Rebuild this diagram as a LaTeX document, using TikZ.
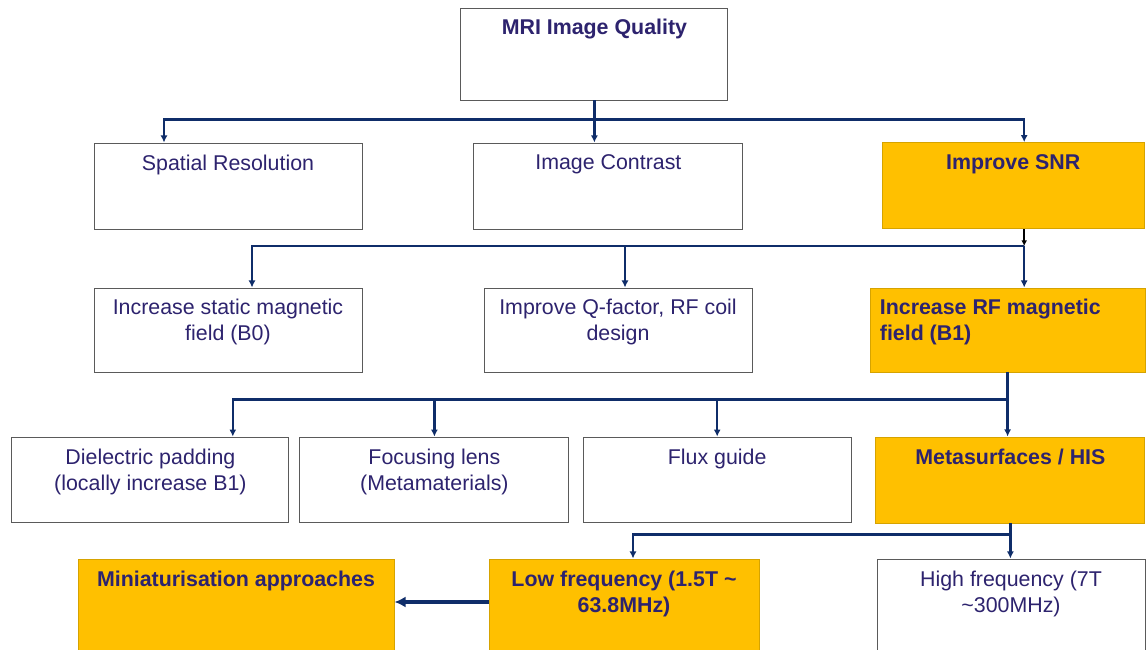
\documentclass[tikz,border=0pt]{standalone}
\usepackage{fontspec}
\setmainfont{Liberation Sans}
\usetikzlibrary{arrows.meta, positioning, calc}
\definecolor{ink}{HTML}{2D236E}
\definecolor{wire}{HTML}{0F2D69}
\definecolor{gold}{HTML}{FFC000}
\definecolor{golddark}{HTML}{D6A300}
\definecolor{edgegray}{HTML}{5A5A5A}
\tikzset{
  box/.style={rectangle, draw=edgegray, line width=0.7pt, fill=white,
    minimum width=6.7cm, minimum height=2.15cm, inner sep=0pt},
  box/hot/.style={box, draw=golddark, fill=gold},
  txt/.style={font=\fontsize{15.2}{18.5}\selectfont, text=ink, align=center, inner sep=0pt},
  txt/bold/.style={txt, font=\fontsize{15.2}{18.5}\selectfont\bfseries},
  ar/.style={-{Latex[length=5pt,width=5pt]}, draw=wire, line width=1.7pt},
  ar/black/.style={-{Latex[length=4pt,width=4pt]}, draw=black, line width=1.1pt},
  ar/big/.style={-{Latex[length=8pt,width=8pt]}, draw=wire, line width=2.3pt},
}

\begin{document}
\begin{tikzpicture}
\path[use as bounding box, clip] (0,0) rectangle (28.65,-16.25);

% top
\node[box, minimum width=6.675cm, minimum height=2.3cm] (MRI) at (14.86,-1.35) {};
\node[txt/bold, below=0.27cm of MRI.north] (tMRI) {MRI Image Quality};

% row 1
\node[box] (SR) at (5.70,-4.65) {};
\node[txt, below=0.3cm of SR.north] (tSR) {Spatial Resolution};
\node[box, minimum width=6.725cm] (IC) at (15.21,-4.65) {};
\node[txt, below=0.3cm of IC.north] (tIC) {Image Contrast};
\node[box/hot, minimum width=6.55cm] (SNR) at (25.33,-4.64) {};
\node[txt/bold, below=0.3cm of SNR.north] (tSNR) {Improve SNR};

% row 2
\node[box, minimum height=2.1cm] (IS) at (5.70,-8.25) {};
\node[txt, below=0.27cm of IS.north] (tIS) {Increase static magnetic\\field (B0)};
\node[box, minimum height=2.1cm] (QF) at (15.45,-8.25) {};
\node[txt, below=0.27cm of QF.north] (tQF) {Improve Q-factor, RF coil\\design};
\node[box/hot, minimum width=6.875cm, minimum height=2.1cm] (RF) at (25.19,-8.25) {};
\node[txt/bold, align=left, below right=0.27cm and 0.25cm of RF.north west] (tRF) {Increase RF magnetic\\field (B1)};

% row 3
\node[box, minimum width=6.925cm, minimum height=2.125cm] (DP) at (3.76,-11.99) {};
\node[txt, below=0.3cm of DP.north] (tDP) {Dielectric padding\\(locally increase B1)};
\node[box, minimum width=6.725cm, minimum height=2.125cm] (FL) at (10.86,-11.99) {};
\node[txt, below=0.3cm of FL.north] (tFL) {Focusing lens\\(Metamaterials)};
\node[box, minimum height=2.125cm] (FG) at (17.93,-11.99) {};
\node[txt, below=0.3cm of FG.north] (tFG) {Flux guide};
\node[box/hot, minimum width=6.725cm] (MS) at (25.26,-12.0) {};
\node[txt/bold, below=0.3cm of MS.north] (tMS) {Metasurfaces / HIS};

% row 4
\node[box/hot, minimum width=7.9cm, minimum height=2.5cm] (MA) at (5.9,-15.225) {};
\node[txt/bold, below=0.3cm of MA.north] (tMA) {Miniaturisation approaches};
\node[box/hot, minimum width=6.75cm, minimum height=2.5cm] (LF) at (15.6,-15.225) {};
\node[txt/bold, below=0.3cm of LF.north] (tLF) {Low frequency (1.5T \textasciitilde\\63.8MHz)};
\node[box, minimum height=2.5cm] (HF) at (25.275,-15.225) {};
\node[txt, below=0.3cm of HF.north] (tHF) {High frequency (7T\\\textasciitilde300MHz)};

% connectors
\coordinate (b1) at ($(MRI.south)+(0,-0.475)$);
\draw[ar] (MRI.south) -- (MRI.south |- IC.north);
\draw[ar] (b1) -| ($(SR.north)+(-1.6,0)$);
\draw[ar] (b1) -| ($(SNR.north)+(0.275,0)$);

\coordinate (b2) at ($(SNR.south)+(0.275,-0.425)$);
\draw[ar] (b2) -| ($(IS.north)+(0.6,0)$);
\draw[ar] (b2) -| ($(QF.north)+(0.175,0)$);
\draw[ar] (b2) -- (b2 |- RF.north);
\draw[ar/black] ($(SNR.south)+(0.275,0)$) -- (b2);

\coordinate (b3) at ($(RF.south)+(0,-0.675)$);
\draw[ar] (RF.south) -- (RF.south |- MS.north);
\draw[ar] (b3) -| ($(DP.north)+(2.06,0)$);
\draw[ar] (b3) -| (FL.north);
\draw[ar] (b3) -| (FG.north);

\coordinate (b4) at ($(MS.south)+(0,-0.275)$);
\draw[ar] (MS.south) -- (MS.south |- HF.north);
\draw[ar] (b4) -| ($(LF.north)+(0.225,0)$);

\draw[ar/big] ($(LF.west)+(0,0.175)$) -- ($(MA.east)+(0,0.175)$);
\end{tikzpicture}
\end{document}
